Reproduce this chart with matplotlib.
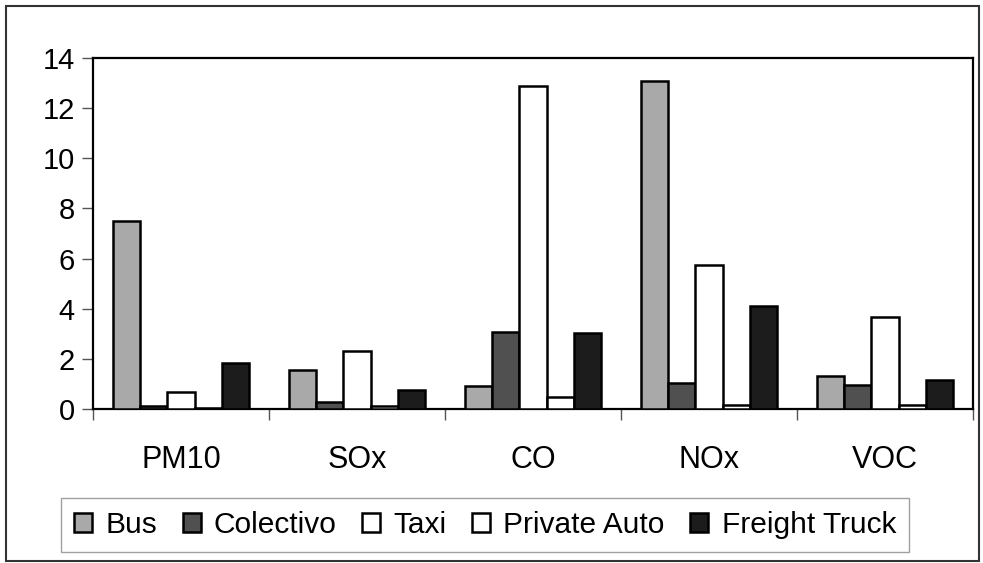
import matplotlib
matplotlib.use("Agg")
import matplotlib.pyplot as plt
from matplotlib.patches import Rectangle
import numpy as np

plt.rcParams['font.family'] = ['Liberation Sans', 'DejaVu Sans']

categories = ["PM10", "SOx", "CO", "NOx", "VOC"]
series = ["Bus", "Colectivo", "Taxi", "Private Auto", "Freight Truck"]
bus = [7.5, 1.55, 0.93, 13.1, 1.33]
colectivo = [0.1, 0.28, 3.08, 1.05, 0.96]
taxi = [0.68, 2.31, 12.9, 5.75, 3.68]
private_auto = [0.02, 0.1, 0.47, 0.17, 0.14]
freight_truck = [1.84, 0.76, 3.03, 4.1, 1.16]
values = [bus, colectivo, taxi, private_auto, freight_truck]
colors = ["#a9a9a9", "#505050", "#ffffff", "#ffffff", "#1c1c1c"]
yticks = [0, 2, 4, 6, 8, 10, 12, 14]

W, H = 983, 563
fig = plt.figure(figsize=(W / 100, H / 100), dpi=100)
ax = fig.add_axes([93 / W, (H - 409) / H, (973 - 93) / W, (409 - 58) / H])

n = len(series)
bw = 0.155
x = np.arange(len(categories))
for i, (s, v, c) in enumerate(zip(series, values, colors)):
    ax.bar(x + (i - (n - 1) / 2) * bw, v, width=bw, color=c, edgecolor="black",
           linewidth=1.8, label=s, zorder=3)

ax.set_xlim(-0.5, len(categories) - 0.5)
ax.set_ylim(0, 14)
ax.set_yticks(yticks)
ax.set_yticklabels([str(t) for t in yticks], fontsize=21)
ax.set_xticks(np.arange(len(categories) + 1) - 0.5, minor=False)
ax.set_xticklabels([])
ax.set_xticks(x, minor=True)
ax.set_xticklabels(categories, minor=True, fontsize=22)
ax.tick_params(axis='x', which='minor', length=0, pad=26)
ax.tick_params(axis='x', which='major', length=8, width=1, color="#555555", direction='out')
ax.tick_params(axis='y', length=8, width=1, color="#555555", direction='out', pad=5)
for sp in ax.spines.values():
    sp.set_linewidth(1.6)
    sp.set_color("black")

leg = fig.legend(loc="center", bbox_to_anchor=(485 / W, 1 - 525 / H), ncol=5,
                 fontsize=21.5, frameon=True, fancybox=False, handlelength=0.6,
                 handleheight=0.6, handletextpad=0.45, columnspacing=0.85,
                 borderpad=0.45)
leg.get_frame().set_edgecolor("#888888")
leg.get_frame().set_linewidth(1.0)

fig.patches.append(Rectangle((6 / W, 1 - 561 / H), (979 - 6) / W, (561 - 6) / H,
                             transform=fig.transFigure, fill=False,
                             edgecolor="#333333", linewidth=1.5))

fig.savefig("out.png", dpi=100)
